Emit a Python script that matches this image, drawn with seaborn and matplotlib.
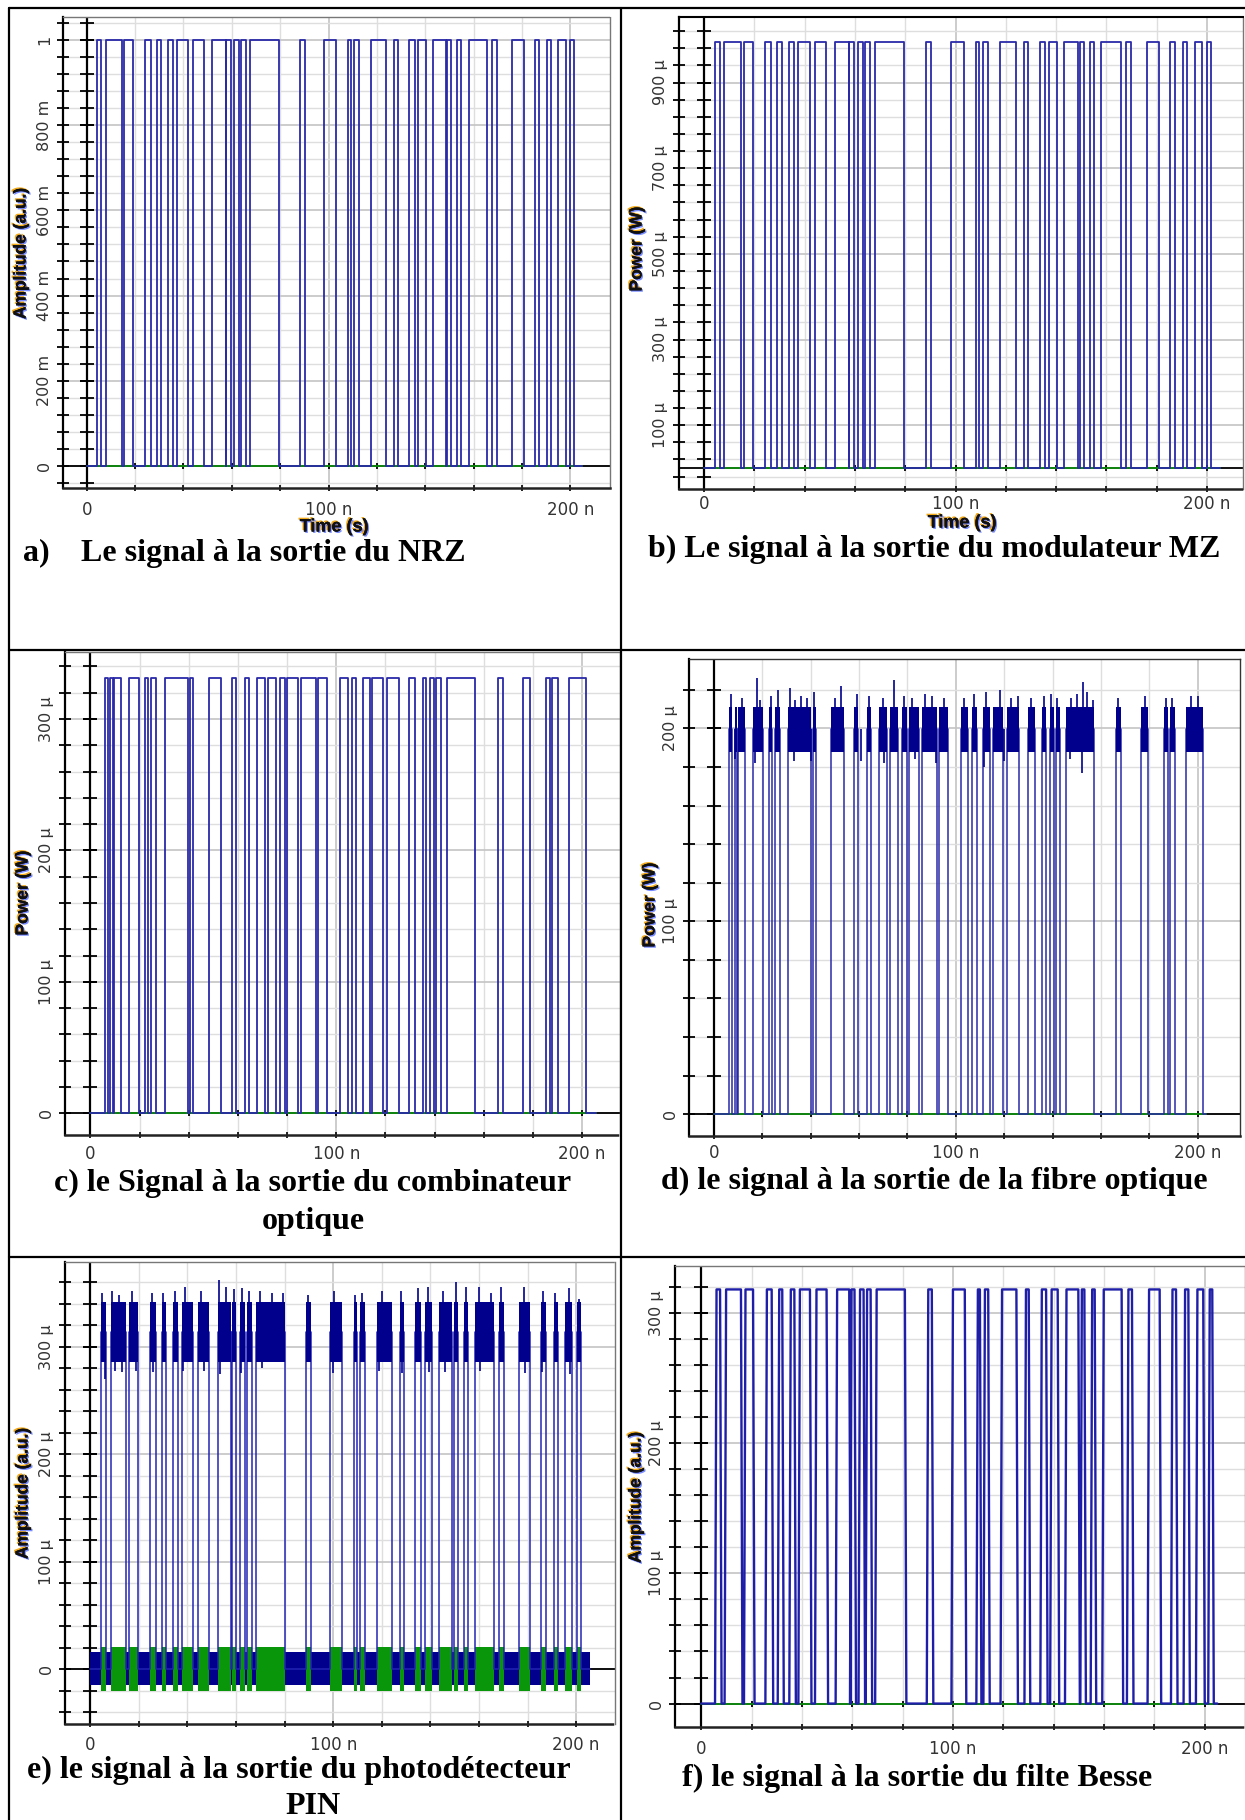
import numpy as np
import pandas as pd
import matplotlib
matplotlib.use('Agg')
import matplotlib.pyplot as plt
import matplotlib.patheffects as pe
import seaborn as sns

sns.set_theme(style='white')
plt.rcParams['font.family'] = ['DejaVu Sans']

W, H = 1245, 1820
fig = plt.figure(figsize=(W / 100, H / 100), dpi=100)
fig.patch.set_facecolor('white')

# ---------------- data (times in ns, powers in µW) ----------------
x_ticks = [0, 100, 200]
x_ticklabels = ['0', '100 n', '200 n']

# a) NRZ output : high intervals (ns), level 1
a_high = [(4.1, 6.1), (7.9, 14.4), (15.6, 19.2), (24.1, 26.6), (29.0, 30.8), (33.6, 35.6),
          (37.2, 41.8), (43.8, 48.4), (52.0, 57.4), (57.7, 59.5), (61.1, 63.1), (63.9, 65.9),
          (67.7, 79.5), (88.2, 90.2), (98.0, 103.3), (107.9, 109.3), (110.7, 112.6),
          (117.5, 123.8), (127.0, 128.7), (133.3, 135.6), (137.2, 140.2), (143.1, 148.4),
          (149.2, 150.8), (153.3, 154.9), (157.9, 165.6), (167.7, 169.7), (175.9, 180.7),
          (185.2, 187.2), (190.2, 192.1), (195.1, 198.0), (200.0, 201.6)]
a_level = 1.0
a_end = 205.0
a_yticks = [0, 0.2, 0.4, 0.6, 0.8, 1.0]
a_yticklabels = ['0', '200 m', '400 m', '600 m', '800 m', '1']

# b) MZ modulator output
b_high = [(4.2, 6.3), (8.0, 14.5), (15.7, 19.3), (24.2, 26.7), (29.1, 30.9), (33.7, 35.7),
          (37.3, 41.9), (43.9, 48.5), (52.1, 57.5), (57.8, 59.6), (61.2, 63.2), (64.0, 66.0),
          (67.8, 79.6), (88.3, 90.3), (98.1, 103.4), (108.0, 109.4), (110.8, 112.7),
          (117.6, 123.9), (127.1, 128.8), (133.4, 135.7), (137.3, 140.3), (143.2, 148.5),
          (149.3, 150.9), (153.4, 155.0), (158.0, 165.7), (167.8, 169.8), (176.0, 180.8),
          (185.3, 187.3), (190.3, 192.2), (195.2, 198.1), (200.1, 201.7)]
b_level = 995.0
b_end = 205.0
b_yticks = [100, 300, 500, 700, 900]
b_yticklabels = ['100 µ', '300 µ', '500 µ', '700 µ', '900 µ']

# c) optical combiner output
c_high = [(5.8, 7.0), (8.2, 9.2), (9.6, 12.3), (15.8, 19.9), (22.3, 23.6), (24.7, 26.8),
          (30.4, 39.7), (40.6, 41.7), (48.1, 53.3), (57.5, 59.3), (62.7, 64.6), (67.9, 71.1),
          (72.4, 75.6), (77.2, 79.2), (80.1, 84.5), (85.6, 91.8), (92.6, 96.3), (101.5, 104.7),
          (106.3, 108.2), (110.8, 113.6), (114.7, 118.9), (120.5, 125.7), (129.4, 132.1),
          (135.1, 136.7), (138.3, 139.9), (140.7, 142.6), (145.1, 156.4), (165.8, 167.7),
          (175.8, 178.7), (185.5, 187.1), (187.9, 190.0), (194.8, 201.6)]
c_level = 331.0
c_end = 205.6
c_yticks = [0, 100, 200, 300]
c_yticklabels = ['0', '100 µ', '200 µ', '300 µ']

# d) optical fibre output (noisy high level band)
d_high = [(6.3, 7.5), (8.7, 9.7), (10.1, 12.8), (16.3, 20.4), (22.8, 24.1), (25.2, 27.3),
          (30.9, 40.2), (41.1, 42.2), (48.6, 53.8), (58.0, 59.8), (63.2, 65.1), (68.4, 71.6),
          (72.9, 76.1), (77.7, 79.7), (80.6, 85.0), (86.1, 92.3), (93.1, 96.8), (102.0, 105.2),
          (106.8, 108.7), (111.3, 114.1), (115.2, 119.4), (121.0, 126.2), (129.9, 132.6),
          (135.6, 137.2), (138.8, 140.4), (141.2, 143.1), (145.6, 156.9), (166.3, 168.2),
          (176.3, 179.2), (186.0, 187.6), (188.4, 190.5), (195.3, 202.1)]
d_band = (188.0, 211.0)
d_spike_t = [7.0, 11.5, 17.8, 19.0, 23.5, 26.4, 31.4, 33.5, 36.0, 38.5, 41.5, 50.0, 52.6,
             59.2, 64.0, 70.0, 74.4, 78.5, 82.0, 87.3, 90.0, 95.0, 103.5, 107.5, 112.4,
             118.2, 123.0, 125.6, 131.0, 136.5, 139.5, 142.0, 147.5, 150.0, 152.4, 154.0,
             156.7, 167.0, 178.0, 187.0, 189.5, 197.0, 200.0,
             33.0, 40.0, 70.5, 92.0, 111.6, 120.0, 147.0, 152.0, 9.0, 17.0, 61.0, 83.0]
d_spike_v = [218, 216, 226, 215, 217, 220, 221, 215, 217, 216, 219, 216, 222,
             218, 217, 216, 225, 217, 216, 218, 217, 216, 216, 218, 219,
             220, 216, 217, 216, 217, 218, 216, 216, 218, 224, 219,
             215, 216, 217, 216, 216, 217, 217,
             183, 183, 182, 182, 180, 183, 184, 177, 184, 182, 183, 184]
d_end = 203.5
d_yticks = [0, 100, 200]
d_yticklabels = ['0', '100 µ', '200 µ']

# e) PIN photodetector output (noisy levels)
e_high = [(4.6, 6.6), (8.4, 14.9), (16.1, 19.7), (24.6, 27.1), (29.5, 31.3), (34.1, 36.1),
          (37.7, 42.3), (44.3, 48.9), (52.5, 57.9), (58.2, 60.0), (61.6, 63.6), (64.4, 66.4),
          (68.2, 80.0), (88.7, 90.7), (98.5, 103.8), (108.4, 109.8), (111.2, 113.1),
          (118.0, 124.3), (127.5, 129.2), (133.8, 136.1), (137.7, 140.7), (143.6, 148.9),
          (149.7, 151.3), (153.8, 155.4), (158.4, 166.1), (168.2, 170.2), (176.4, 181.2),
          (185.7, 187.7), (190.7, 192.6), (195.6, 198.5), (200.5, 202.1)]
e_band = (286.0, 342.0)
e_zero_band = (-15.0, 16.0)
e_green_band = (-20.0, 21.0)
e_spike_t = [5.0, 9.0, 12.0, 17.0, 25.5, 30.0, 35.0, 39.0, 45.5, 52.9, 56.0, 59.0, 62.5,
             65.5, 70.0, 75.0, 79.5, 89.5, 100.5, 109.0, 112.0, 120.0, 128.0, 135.0, 139.0,
             145.0, 150.5, 154.5, 160.0, 165.0, 169.0, 178.5, 186.5, 191.5, 197.2, 201.0,
             5.9, 10.0, 13.0, 19.0, 26.0, 38.0, 47.0, 53.5, 62.0, 70.5, 100.0, 119.0, 128.5,
             139.5, 146.0, 160.5, 179.0, 186.0, 197.5]
e_spike_v = [350, 352, 348, 352, 350, 350, 352, 356, 352, 362, 356, 354, 355,
             352, 352, 350, 350, 348, 352, 348, 350, 352, 352, 355, 356,
             352, 360, 356, 356, 350, 356, 356, 352, 350, 355, 345,
             270, 278, 277, 278, 277, 278, 278, 275, 276, 280, 276, 278, 276,
             277, 277, 278, 276, 277, 275]
e_end = 205.7
e_yticks = [0, 100, 200, 300]
e_yticklabels = ['0', '100 µ', '200 µ', '300 µ']

# f) Bessel filter output
f_high = [(5.5, 7.5), (9.3, 15.8), (17.0, 20.6), (25.5, 28.0), (30.4, 32.2), (35.0, 37.0),
          (38.6, 43.2), (45.2, 49.8), (53.4, 58.8), (59.1, 60.9), (62.5, 64.5), (65.3, 67.3),
          (69.1, 80.9), (89.6, 91.6), (99.4, 104.7), (109.3, 110.7), (112.1, 114.0),
          (118.9, 125.2), (128.4, 130.1), (134.7, 137.0), (138.6, 141.6), (144.5, 149.8),
          (150.6, 152.2), (154.7, 156.3), (159.3, 167.0), (169.1, 171.1), (177.3, 182.1),
          (186.6, 188.6), (191.6, 193.5), (196.5, 199.4), (201.4, 203.0)]
f_level = 318.0
f_end = 205.0
f_yticks = [0, 100, 200, 300]
f_yticklabels = ['0', '100 µ', '200 µ', '300 µ']

captions = {
    'a1': 'a)', 'a2': 'Le signal à la sortie du NRZ',
    'b': 'b) Le signal à la sortie du modulateur MZ',
    'c1': 'c) le Signal à la sortie du combinateur', 'c2': 'optique',
    'd': 'd) le signal à la sortie de la fibre optique',
    'e1': 'e) le signal à la sortie du photodétecteur', 'e2': 'PIN',
    'f': 'f) le signal à la sortie du filte Besse',
}

BLUE = '#2a2aa8'
NAVY = '#00008c'
GREEN = '#109a10'


def ax_at(left, top, right, bottom):
    return fig.add_axes([left / W, 1 - bottom / H, (right - left) / W, (bottom - top) / H])


def fx(x):
    return x / W


def fy(y):
    return 1 - y / H


def square(highs, level, t_end, ramp=0.0):
    xs, ys = [0.0], [0.0]
    for on, off in highs:
        xs += [on, on + ramp, off, off + ramp]
        ys += [0.0, level, level, 0.0]
    xs.append(t_end)
    ys.append(0.0)
    return pd.DataFrame({'t': xs, 'v': ys})


def setup(ax, xlim, ylim, yticks, yticklabels, yminor, xpad=7):
    ax.set_xlim(xlim)
    ax.set_ylim(ylim)
    ax.set_facecolor('white')
    ax.set_xticks(x_ticks)
    ax.set_xticklabels(x_ticklabels)
    ax.set_xticks([v for v in range(20, 220, 20) if v not in (100, 200)], minor=True)
    ax.set_yticks(yticks)
    ax.set_yticklabels(yticklabels)
    ax.set_yticks(yminor, minor=True)
    ax.grid(which='minor', color='#dedede', lw=1.0)
    ax.grid(which='major', color='#c4c4c4', lw=1.2)
    ax.set_axisbelow(True)
    ax.tick_params(axis='y', which='both', direction='inout', length=8, width=1.3,
                   color='black', left=True, labelsize=11.5, labelcolor='#333333', pad=4)
    ax.tick_params(axis='x', which='both', direction='inout', length=5, width=1.2,
                   color='black', bottom=True, labelsize=12, labelcolor='#333333', pad=xpad)
    for lbl in ax.get_yticklabels():
        lbl.set_rotation(90)
        lbl.set_va('center')
        lbl.set_ha('right')
    ax.spines['left'].set_color('black')
    ax.spines['left'].set_linewidth(1.6)
    ax.spines['bottom'].set_color('#222222')
    ax.spines['bottom'].set_linewidth(1.8)
    ax.spines['bottom'].set_linestyle((0, (1, 1)))
    for s in ('top', 'right'):
        ax.spines[s].set_color('#777777')
        ax.spines[s].set_linewidth(1.0)
        ax.spines[s].set_linestyle((0, (1, 1)))
    ax.axhline(0, color='black', lw=1.3, zorder=1.5)
    ax.axvline(0, color='black', lw=1.6, zorder=1.5)
    allticks = list(yticks) + list(yminor)
    ax.plot([0] * len(allticks), allticks, ls='none', marker='_', ms=10, mew=1.3,
            color='black', zorder=1.6)
    xt = list(range(20, 220, 20))
    ax.plot(xt, [0] * len(xt), ls='none', marker='|', ms=5, mew=1.3, color='black', zorder=1.6)


def line(ax, df, color, lw=1.2, z=4):
    sns.lineplot(data=df, x='t', y='v', sort=False, estimator=None, color=color,
                 lw=lw, ax=ax, zorder=z)
    ax.set_xlabel('')
    ax.set_ylabel('')


def zero_green(ax, t_end):
    ax.plot([0, t_end], [0, 0], color=GREEN, lw=1.2, zorder=3)


# ---------------- a ----------------
ax = ax_at(63, 17, 610, 488)
setup(ax, (-9.8, 216.4), (-0.051, 1.053), a_yticks, a_yticklabels, list(np.arange(-0.04, 1.05, 0.04)))
zero_green(ax, a_end)
line(ax, square(a_high, a_level, a_end), BLUE, lw=1.3)

# ---------------- b ----------------
ax = ax_at(679, 17, 1243, 489)
setup(ax, (-10.0, 214.3), (-49, 1053), b_yticks, b_yticklabels, list(range(-20, 1060, 40)), xpad=2)
ax.spines['top'].set_linestyle('-')
ax.spines['top'].set_color('black')
ax.spines['top'].set_linewidth(1.5)
zero_green(ax, b_end)
line(ax, square(b_high, b_level, b_end), BLUE, lw=1.3)

# ---------------- c ----------------
ax = ax_at(65, 652, 620, 1135)
setup(ax, (-10.3, 215.4), (-16.6, 351), c_yticks, c_yticklabels, list(range(0, 350, 20)), xpad=5)
zero_green(ax, c_end)
line(ax, square(c_high, c_level, c_end), BLUE, lw=1.3)

# ---------------- d ----------------
ax = ax_at(689, 659, 1240, 1136)
setup(ax, (-10.2, 217.4), (-11.3, 236), d_yticks, d_yticklabels, list(range(0, 240, 20)), xpad=3)
for s in ('top', 'right'):
    ax.spines[s].set_linestyle('-')
    ax.spines[s].set_color('#333333')
zero_green(ax, d_end)
d_mid = (d_band[0] + d_band[1]) / 2
line(ax, square(d_high, d_mid, d_end), BLUE, lw=1.1)
for on, off in d_high:
    ax.fill_between([on, off], d_band[0], d_band[1], color=NAVY, lw=0, zorder=4.5)
ax.vlines(d_spike_t, d_mid, d_spike_v, color=NAVY, lw=1.2, zorder=4.6)

# ---------------- e ----------------
ax = ax_at(65, 1262, 615, 1724)
setup(ax, (-10.4, 216), (-51, 379), e_yticks, e_yticklabels, list(range(-40, 380, 20)), xpad=6)
ax.fill_between([0, e_end], e_zero_band[0], e_zero_band[1], color=NAVY, lw=0, zorder=3.5)
for on, off in e_high:
    ax.fill_between([on, off], e_green_band[0], e_green_band[1], color='#0a960a', lw=0, zorder=3.6)
e_mid = (e_band[0] + e_band[1]) / 2
line(ax, square(e_high, e_mid, e_end), '#2424b4', lw=1.1, z=4)
for on, off in e_high:
    ax.fill_between([on, off], e_band[0], e_band[1], color=NAVY, lw=0, zorder=4.5)
ax.vlines(e_spike_t, e_mid, e_spike_v, color=NAVY, lw=1.2, zorder=4.6)

# ---------------- f ----------------
ax = ax_at(675, 1266, 1245, 1727)
setup(ax, (-10.4, 216), (-18, 336), f_yticks, f_yticklabels, list(range(0, 340, 20)))
zero_green(ax, f_end)
line(ax, square(f_high, f_level, f_end, ramp=0.6), '#1e1ea8', lw=1.7)

# ---------------- axis titles ----------------
shadow = [pe.withSimplePatchShadow(offset=(-1, 1), shadow_rgbFace='#f0a000', alpha=0.9),
          pe.withSimplePatchShadow(offset=(1, -1), shadow_rgbFace='#2040ff', alpha=0.6),
          pe.Normal()]
ylab_kw = dict(rotation=90, ha='center', va='center', fontsize=12.5, fontweight='bold',
               family=['Liberation Sans', 'DejaVu Sans'], color='#111111', path_effects=shadow)
fig.text(fx(21), fy(253), 'Amplitude (a.u.)', **ylab_kw)
fig.text(fx(637), fy(249), 'Power (W)', **ylab_kw)
fig.text(fx(23), fy(893), 'Power (W)', **ylab_kw)
fig.text(fx(650), fy(905), 'Power (W)', **ylab_kw)
fig.text(fx(23), fy(1493), 'Amplitude (a.u.)', **ylab_kw)
fig.text(fx(636), fy(1497), 'Amplitude (a.u.)', **ylab_kw)
xlab_kw = dict(ha='center', va='center', fontsize=13, fontweight='bold',
               family=['Liberation Sans', 'DejaVu Sans'], color='#111111', path_effects=shadow)
fig.text(fx(334), fy(527), 'Time (s)', **xlab_kw)
fig.text(fx(962), fy(523), 'Time (s)', **xlab_kw)

# ---------------- captions ----------------
cap_kw = dict(fontsize=23, fontweight='bold', family=['Liberation Serif', 'DejaVu Serif'],
              color='black', va='center')
fig.text(fx(23), fy(553), captions['a1'], ha='left', **cap_kw)
fig.text(fx(81), fy(553), captions['a2'], ha='left', **cap_kw)
fig.text(fx(934), fy(549), captions['b'], ha='center', **cap_kw)
fig.text(fx(313), fy(1183), captions['c1'], ha='center', **cap_kw)
fig.text(fx(313), fy(1221), captions['c2'], ha='center', **cap_kw)
fig.text(fx(934), fy(1181), captions['d'], ha='center', **cap_kw)
fig.text(fx(299), fy(1770), captions['e1'], ha='center', **cap_kw)
fig.text(fx(313), fy(1806), captions['e2'], ha='center', **cap_kw)
fig.text(fx(917), fy(1778), captions['f'], ha='center', **cap_kw)

# ---------------- table borders ----------------
tb = dict(color='black', lw=1.6, transform=fig.transFigure, zorder=10)
fig.add_artist(plt.Line2D([fx(9), fx(9)], [fy(8), fy(1820)], **tb))
fig.add_artist(plt.Line2D([fx(9), fx(1245)], [fy(8), fy(8)], **tb))
fig.add_artist(plt.Line2D([fx(621), fx(621)], [fy(8), fy(1820)], **tb))
fig.add_artist(plt.Line2D([fx(9), fx(1245)], [fy(650), fy(650)], **tb))
fig.add_artist(plt.Line2D([fx(9), fx(1245)], [fy(1257), fy(1257)], **tb))

fig.savefig('out.png', dpi=100, facecolor='white')
